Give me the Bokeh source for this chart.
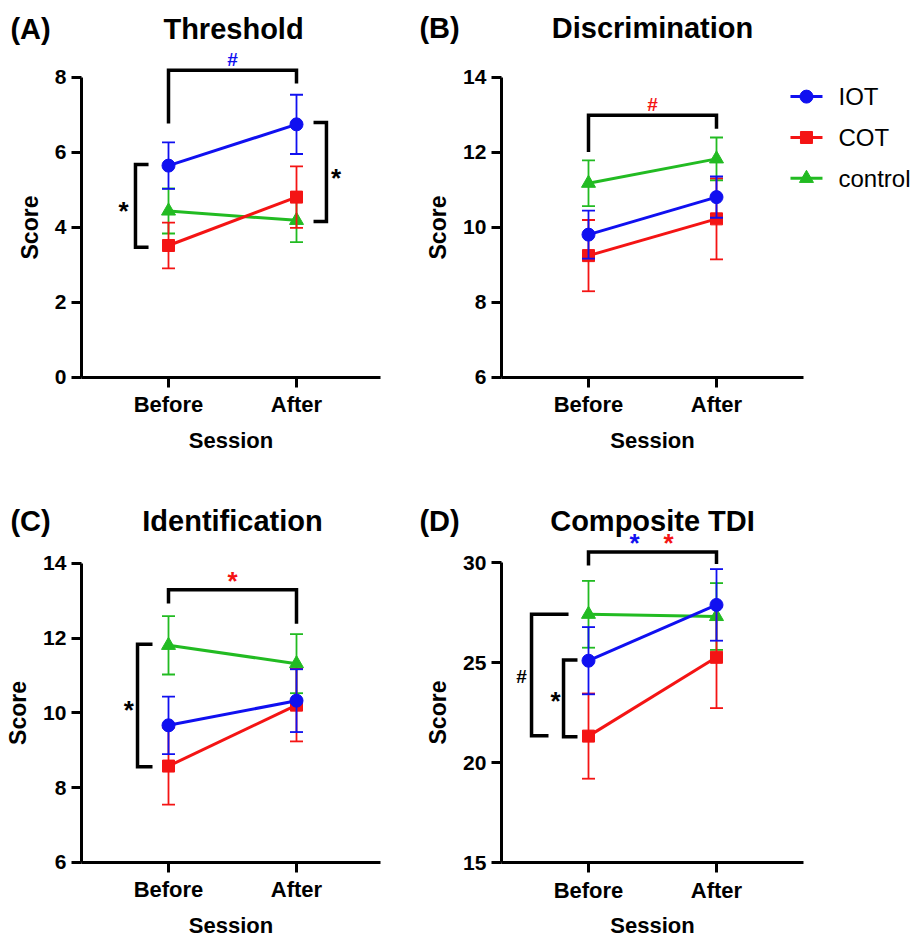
from bokeh.plotting import figure
from bokeh.layouts import gridplot
from bokeh.models import Label, FixedTicker, Range1d
from bokeh.embed import file_html
from bokeh.resources import INLINE

# ---------------- data ----------------
sessions = ["Before", "After"]
x_pos = [1, 2]
groups = ["IOT", "COT", "control"]

threshold_iot = [5.65, 6.75]
threshold_iot_err = [0.62, 0.79]
threshold_cot = [3.52, 4.81]
threshold_cot_err = [0.61, 0.82]
threshold_ctl = [4.44, 4.19]
threshold_ctl_err = [0.60, 0.58]

disc_iot = [9.81, 10.81]
disc_iot_err = [0.64, 0.55]
disc_cot = [9.25, 10.23]
disc_cot_err = [0.95, 1.08]
disc_ctl = [11.18, 11.83]
disc_ctl_err = [0.61, 0.57]

ident_iot = [9.67, 10.33]
ident_iot_err = [0.77, 0.84]
ident_cot = [8.58, 10.21]
ident_cot_err = [1.03, 0.97]
ident_ctl = [11.81, 11.32]
ident_ctl_err = [0.78, 0.79]

tdi_iot = [25.09, 27.88]
tdi_iot_err = [1.68, 1.79]
tdi_cot = [21.32, 25.26]
tdi_cot_err = [2.13, 2.54]
tdi_ctl = [27.41, 27.30]
tdi_ctl_err = [1.67, 1.67]

BLUE = "#1010F0"
RED = "#F41414"
GREEN = "#22BB22"
FONT = "Liberation Sans"
colors = {"IOT": BLUE, "COT": RED, "control": GREEN}
markers = {"IOT": ("circle", 13), "COT": ("square", 12), "control": ("triangle", 14)}


def make_panel(width, height, xr, yr, ybounds, yticks, xbounds, yaxis_at, xaxis_at):
    p = figure(width=width, height=height,
               x_range=Range1d(*xr), y_range=Range1d(*yr),
               output_backend="svg", toolbar_location=None,
               min_border_left=0, min_border_right=0,
               min_border_top=0, min_border_bottom=0)
    p.xgrid.visible = False
    p.ygrid.visible = False
    p.outline_line_color = None
    p.background_fill_color = "white"
    p.border_fill_color = "white"
    for ax in (p.xaxis[0], p.yaxis[0]):
        ax.axis_line_width = 3
        ax.axis_line_color = "black"
        ax.major_tick_line_width = 3
        ax.major_tick_line_color = "black"
        ax.major_tick_out = 10
        ax.major_tick_in = 0
        ax.minor_tick_line_color = None
        ax.major_label_text_color = "black"
        ax.major_label_text_font = FONT
        ax.major_label_text_font_style = "bold"
        ax.axis_label_text_color = "black"
        ax.axis_label_text_font = FONT
        ax.axis_label_text_font_style = "bold"
    p.yaxis.fixed_location = yaxis_at
    p.yaxis.ticker = FixedTicker(ticks=yticks)
    p.yaxis.bounds = ybounds
    p.yaxis.major_label_text_font_size = "21px"
    p.yaxis.major_label_standoff = 5
    p.yaxis.axis_label = "Score"
    p.yaxis.axis_label_text_font_size = "23px"
    p.yaxis.axis_label_standoff = 9
    p.xaxis.fixed_location = xaxis_at
    p.xaxis.ticker = FixedTicker(ticks=x_pos)
    p.xaxis.major_label_overrides = {x: s for x, s in zip(x_pos, sessions)}
    p.xaxis.bounds = xbounds
    p.xaxis.major_label_text_font_size = "22px"
    p.xaxis.major_label_standoff = 5
    p.xaxis.axis_label = "Session"
    p.xaxis.axis_label_text_font_size = "22px"
    p.xaxis.axis_label_standoff = 7
    return p


def draw_series(p, vals):
    for g in ["control", "COT", "IOT"]:
        m, e = vals[g]
        c = colors[g]
        lo = [a - b for a, b in zip(m, e)]
        hi = [a + b for a, b in zip(m, e)]
        p.segment(x0=x_pos, y0=lo, x1=x_pos, y1=hi, line_color=c, line_width=1.8)
        p.scatter(x=x_pos + x_pos, y=lo + hi, marker="dash", size=13,
                  line_color=c, line_width=1.8)
        p.line(x=x_pos, y=m, line_color=c, line_width=3)
        mk, sz = markers[g]
        p.scatter(x=x_pos, y=m, marker=mk, size=sz, fill_color=c, line_color=c)


def bracket(p, xs, ys, w=3.5):
    p.line(x=xs, y=ys, line_color="black", line_width=w, line_join="miter")


def label(p, x, y, text, size, color="black", bold=True, align="center"):
    p.add_layout(Label(x=x, y=y, text=text, text_font=FONT,
                       text_font_size=size, text_color=color,
                       text_font_style="bold" if bold else "normal",
                       text_align=align, text_baseline="middle"))


W_LEFT, W_RIGHT, H = 410, 504, 470
X_LEFT = (-0.3125, 2.8906)
X_RIGHT = (-0.3906, 3.5469)

# ---------------- (A) Threshold ----------------
pa = make_panel(W_LEFT, H, X_LEFT, (-2.48, 10.053), (0, 8),
                [0, 2, 4, 6, 8], (0.32, 2.656), 0.32, 0)
draw_series(pa, {"IOT": (threshold_iot, threshold_iot_err),
                 "COT": (threshold_cot, threshold_cot_err),
                 "control": (threshold_ctl, threshold_ctl_err)})
bracket(pa, [1, 1, 2, 2], [6.77, 8.19, 8.19, 7.84])
label(pa, 1.5, 8.47, "#", "19px", BLUE)
bracket(pa, [0.844, 0.742, 0.742, 0.844], [5.68, 5.68, 3.47, 3.47])
label(pa, 0.648, 4.45, "*", "26px")
bracket(pa, [2.133, 2.234, 2.234, 2.133], [6.80, 6.80, 4.16, 4.16])
label(pa, 2.31, 5.31, "*", "26px")
label(pa, 1.508, 9.28, "Threshold", "29px")
label(pa, -0.078, 9.28, "(A)", "29px")

# ---------------- (B) Discrimination ----------------
pb = make_panel(W_RIGHT, H, X_RIGHT, (3.52, 16.053), (6, 14),
                [6, 8, 10, 12, 14], (0.32, 2.68), 0.32, 6)
draw_series(pb, {"IOT": (disc_iot, disc_iot_err),
                 "COT": (disc_cot, disc_cot_err),
                 "control": (disc_ctl, disc_ctl_err)})
bracket(pb, [1, 1, 2, 2], [12.01, 12.99, 12.99, 12.63])
label(pb, 1.5, 13.27, "#", "19px", RED)
label(pb, 1.5, 15.31, "Discrimination", "29px")
label(pb, -0.164, 15.31, "(B)", "29px")
# legend
leg_y = [13.49, 12.40, 11.31]
for g, yy in zip(groups, leg_y):
    c = colors[g]
    pb.line(x=[2.578, 2.828], y=[yy, yy], line_color=c, line_width=3)
    mk, sz = markers[g]
    pb.scatter(x=[2.703], y=[yy], marker=mk, size=sz, fill_color=c, line_color=c)
    label(pb, 2.953, yy, g, "24px", bold=False, align="left")

# ---------------- (C) Identification ----------------
pc = make_panel(W_LEFT, H, X_LEFT, (3.913, 16.488), (6, 14),
                [6, 8, 10, 12, 14], (0.32, 2.656), 0.32, 6)
draw_series(pc, {"IOT": (ident_iot, ident_iot_err),
                 "COT": (ident_cot, ident_cot_err),
                 "control": (ident_ctl, ident_ctl_err)})
bracket(pc, [1, 1, 2, 2], [12.93, 13.30, 13.30, 12.39])
label(pc, 1.5, 13.52, "*", "26px", RED)
bracket(pc, [0.875, 0.758, 0.758, 0.875], [11.84, 11.84, 8.56, 8.56])
label(pc, 0.69, 10.08, "*", "26px")
label(pc, 1.5, 15.15, "Identification", "29px")
label(pc, -0.078, 15.15, "(C)", "29px")

# ---------------- (D) Composite TDI ----------------
pd_ = make_panel(W_RIGHT, H, X_RIGHT, (11.1, 34.6), (15, 30),
                 [15, 20, 25, 30], (0.32, 2.68), 0.32, 15)
draw_series(pd_, {"IOT": (tdi_iot, tdi_iot_err),
                  "COT": (tdi_cot, tdi_cot_err),
                  "control": (tdi_ctl, tdi_ctl_err)})
bracket(pd_, [1, 1, 2, 2], [29.85, 30.52, 30.52, 29.93])
label(pd_, 1.36, 30.98, "*", "26px", BLUE)
label(pd_, 1.625, 30.98, "*", "26px", RED)
bracket(pd_, [0.844, 0.555, 0.555, 0.6875], [27.41, 27.41, 21.34, 21.34])
label(pd_, 0.477, 24.29, "#", "19px")
bracket(pd_, [0.914, 0.805, 0.805, 0.914], [25.13, 25.13, 21.29, 21.29])
label(pd_, 0.742, 23.06, "*", "26px")
label(pd_, 1.5, 32.1, "Composite TDI", "29px")
label(pd_, -0.164, 32.1, "(D)", "29px")

grid = gridplot([[pa, pb], [pc, pd_]], toolbar_location=None)
open("out.html", "w").write(file_html(grid, INLINE))
